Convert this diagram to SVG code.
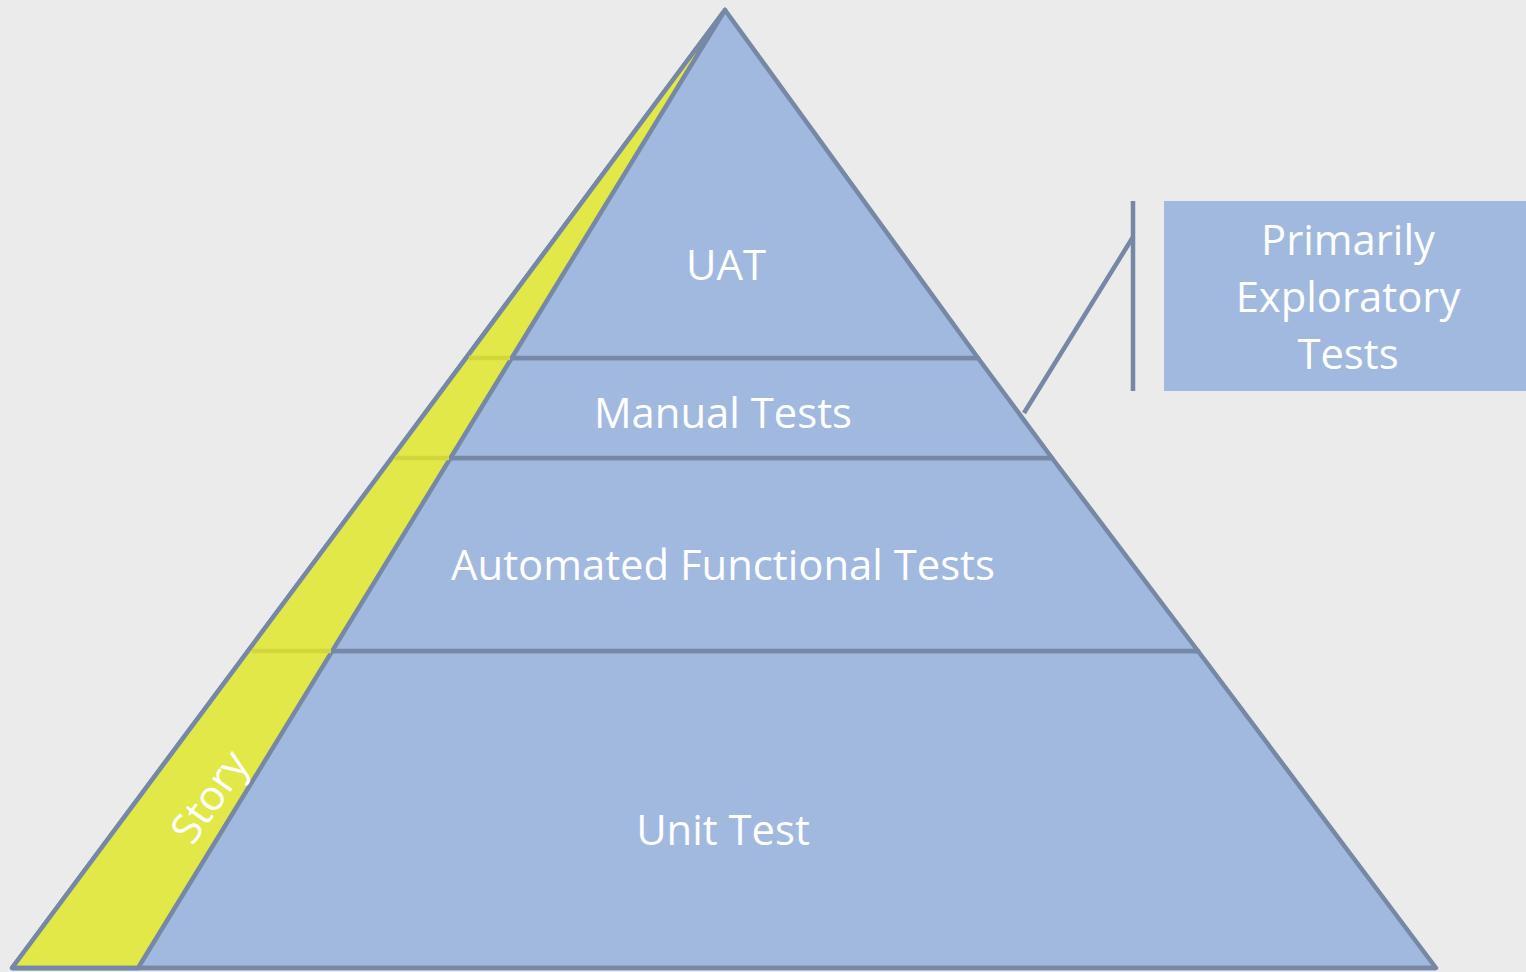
<svg xmlns="http://www.w3.org/2000/svg" width="1526" height="972" viewBox="0 0 1526 972">
<style>
.tier{fill:#a2b9df;stroke:#7688a5;stroke-width:4.5;stroke-linejoin:round}
.lbl{font-family:"Open Sans","Noto Sans",sans-serif;font-size:41.8px;fill:#ffffff;text-anchor:middle}
.ln{stroke:#7688a5;stroke-width:4.5;fill:none;stroke-linecap:butt}
.yl{stroke:#d2d63b;stroke-width:4.5}
</style>
<rect x="0" y="0" width="1526" height="972" fill="#ebebeb"/>
<g id="unit-test">
<polygon class="tier" points="248,651 1198,651 1436,968 12,968"/>
<text class="lbl" x="723" y="845">Unit Test</text>
</g>
<g id="automated-functional-tests">
<polygon class="tier" points="392,458 1052,458 1198,651 248,651"/>
<text class="lbl" x="723" y="580">Automated Functional Tests</text>
</g>
<g id="manual-tests">
<polygon class="tier" points="466,358 978,358 1052,458 392,458"/>
<text class="lbl" x="723" y="428">Manual Tests</text>
</g>
<g id="uat">
<polygon class="tier" points="725,10 978,358 466,358"/>
<text class="lbl" x="726" y="280">UAT</text>
</g>
<g id="story">
<polygon points="725,10 138,968 12,968" fill="#e1e847" stroke="#7688a5" stroke-width="4.5" stroke-linejoin="round"/>
<line class="yl" x1="469" y1="358" x2="510" y2="358"/>
<line class="yl" x1="395" y1="458" x2="449" y2="458"/>
<line class="yl" x1="252" y1="651" x2="331" y2="651"/>
<text class="lbl" transform="translate(210,797) rotate(-55)" x="0" y="14" font-size="40">Story</text>
</g>
<g id="connectors">
<line class="ln" x1="12" y1="968" x2="1436" y2="968"/>
<line class="ln" x1="1133" y1="201" x2="1133" y2="391"/>
<line class="ln" x1="1133" y1="237" x2="1024" y2="413" stroke-width="4"/>
</g>
<g id="primarily-exploratory-tests">
<rect x="1164" y="201" width="362" height="190" fill="#a2b9df"/>
<text class="lbl" x="1348" y="255">Primarily</text>
<text class="lbl" x="1348" y="312">Exploratory</text>
<text class="lbl" x="1348" y="369">Tests</text>
</g>
</svg>
